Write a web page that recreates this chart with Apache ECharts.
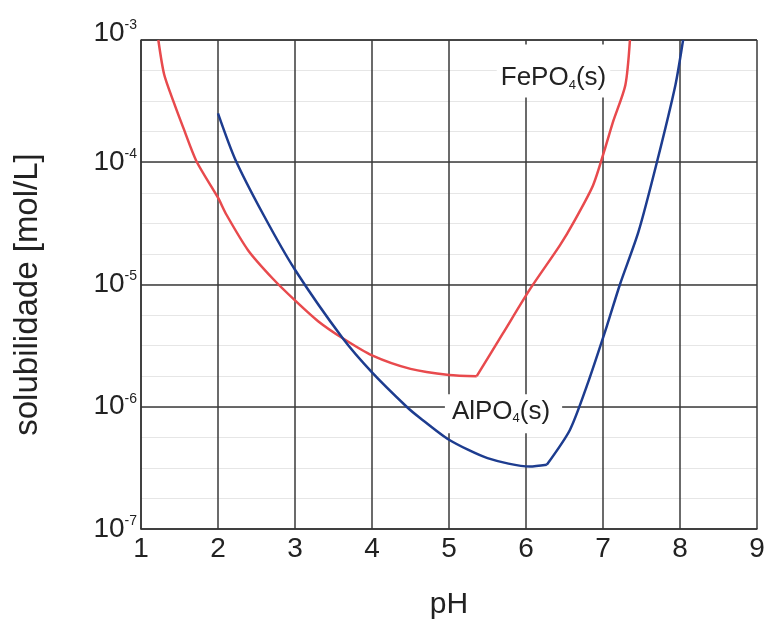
<!DOCTYPE html>
<html>
<head>
<meta charset="utf-8">
<script src="https://cdn.jsdelivr.net/npm/echarts@6/dist/echarts.min.js"></script>
<style>html,body{margin:0;padding:0;background:#fff;}#c{width:768px;height:621px;}</style>
</head>
<body>
<div id="c"></div>
<script>
// FePO4(s) solubility curve: pH and solubility [mol/L]
var fePH  = [1.225, 1.30, 1.42, 1.55, 1.72, 2.0, 2.11, 2.39, 2.71, 3.0, 3.3, 3.62, 4.0, 4.5, 5.0, 5.36, 5.70, 6.05, 6.44, 6.62, 6.87, 7.03, 7.13, 7.29, 7.35];
var feSol = [1.0e-3, 5.25e-4, 3.16e-4, 1.91e-4, 1.02e-4, 5.13e-5, 3.72e-5, 1.91e-5, 1.12e-5, 7.41e-6, 5.01e-6, 3.63e-6, 2.63e-6, 2.04e-6, 1.82e-6, 1.78e-6, 3.98e-6, 9.12e-6, 2.09e-5, 3.24e-5, 6.46e-5, 1.32e-4, 2.14e-4, 4.27e-4, 1.0e-3];
var feKinkIndex = 15; // sharp corner at pH 5.36
// AlPO4(s) solubility curve
var alPH  = [2.0, 2.22, 2.59, 3.0, 3.62, 4.0, 4.45, 4.62, 5.0, 5.5, 6.05, 6.27, 6.57, 6.79, 7.05, 7.22, 7.46, 7.70, 7.94, 8.04];
var alSol = [2.51e-4, 1.07e-4, 3.72e-5, 1.32e-5, 3.63e-6, 1.91e-6, 1.0e-6, 8.13e-7, 5.37e-7, 3.80e-7, 3.24e-7, 3.35e-7, 6.46e-7, 1.48e-6, 4.57e-6, 1.0e-5, 2.69e-5, 1.0e-4, 4.27e-4, 1.0e-3];
var alKinkIndex = 11; // sharp corner at pH 6.27
// in-plot labels (position in data units)
var feLabel = {pre: 'Fe', ph: 6.357, sol: 5.58e-4};
var alLabel = {pre: 'Al', ph: 5.708, sol: 8.75e-7};
// y-axis decade exponents and minor grid step (in exponent units)
var yMinExp = -7, yMaxExp = -3, minorStep = 0.25;

function zip(a, b) { return a.map(function (v, i) { return [v, b[i]]; }); }

var chart = echarts.init(document.getElementById('c'));
var font = '"Liberation Sans", Arial, sans-serif';
var ink = '#222';
var rich = {
  t: {fontSize: 26, fontFamily: font, color: ink},
  sub: {fontSize: 13, fontFamily: font, color: ink, padding: [14, 0, 0, 0]}
};
function mp(lbl, pad) {
  return {
    symbol: 'rect', symbolSize: 0, silent: true,
    data: [{coord: [lbl.ph, lbl.sol]}],
    label: {
      show: true, position: 'inside',
      formatter: function () { return '{t|' + lbl.pre + 'PO}{sub|4}{t|(s)}'; },
      backgroundColor: '#fff', padding: pad, rich: rich
    }
  };
}
function seg(name, data, color, markPoint) {
  var s = {
    name: name, type: 'line', data: data, showSymbol: false,
    smooth: 0.25,
    lineStyle: {color: color, width: 2.5}, z: 4
  };
  if (markPoint) s.markPoint = markPoint;
  return s;
}
var fe = zip(fePH, feSol), al = zip(alPH, alSol);
var red = '#e84a4d', blue = '#1d3c8f';

chart.setOption({
  animation: false,
  backgroundColor: '#fff',
  grid: {left: 141, right: 11, top: 40, bottom: 92, containLabel: false, outerBoundsMode: 'none'},
  xAxis: {
    type: 'value', min: 1, max: 9, interval: 1,
    name: 'pH', nameLocation: 'middle', nameGap: 61,
    nameTextStyle: {fontSize: 30, fontFamily: font, color: ink},
    axisLine: {show: true, onZero: false, lineStyle: {color: '#333', width: 1.5}},
    axisTick: {show: false},
    axisLabel: {fontSize: 28, fontFamily: font, color: ink, margin: 6},
    splitLine: {show: true, lineStyle: {color: '#3a3a3a', width: 1.5}},
    z: 2
  },
  yAxis: [{
    type: 'log', logBase: 10, min: Math.pow(10, yMinExp), max: Math.pow(10, yMaxExp),
    name: 'solubilidade [mol/L]', nameLocation: 'middle', nameGap: 97, nameRotate: 90,
    nameTextStyle: {fontSize: 33, fontFamily: font, color: ink, padding: [0, 20, 0, 0]},
    axisLine: {show: true, lineStyle: {color: '#333', width: 1.5}},
    axisTick: {show: false},
    axisLabel: {
      margin: 4,
      formatter: function (v) {
        var e = Math.round(Math.log10(v));
        return e === yMaxExp ? '{bt|10}{st|' + e + '}' : '{b|10}{s|' + e + '}';
      },
      rich: {
        b: {fontSize: 28, fontFamily: font, color: ink},
        s: {fontSize: 14, fontFamily: font, color: ink, padding: [0, 0, 16, 0]},
        bt: {fontSize: 28, fontFamily: font, color: ink, padding: [0, 0, 14, 0]},
        st: {fontSize: 14, fontFamily: font, color: ink, padding: [0, 0, 30, 0]}
      }
    },
    splitLine: {show: true, lineStyle: {color: '#3a3a3a', width: 1.5}},
    z: 2
  }, {
    type: 'value', min: yMinExp, max: yMaxExp, interval: minorStep, position: 'right',
    axisLine: {show: false}, axisTick: {show: false}, axisLabel: {show: false},
    splitLine: {show: true, lineStyle: {color: '#e6e6e6', width: 1.2}},
    z: 1
  }],
  series: [
    seg('FePO4', fe.slice(0, feKinkIndex + 1), red, mp(feLabel, [20, 4, 6, 4])),
    seg('FePO4 ', fe.slice(feKinkIndex), red),
    seg('AlPO4', al.slice(0, alKinkIndex + 1), blue, mp(alLabel, [4, 12, 8, 7])),
    seg('AlPO4 ', al.slice(alKinkIndex), blue)
  ]
});
</script>
</body>
</html>
